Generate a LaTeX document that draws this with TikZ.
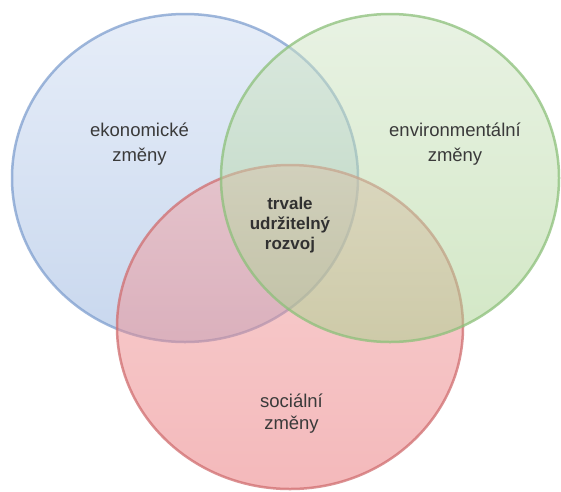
\documentclass[tikz,border=0pt]{standalone}
\usepackage{fontspec}
\setmainfont{Liberation Sans}
\usetikzlibrary{shapes.geometric}
\definecolor{blueTop}{HTML}{CFDDF3}
\definecolor{blueBot}{HTML}{93B1DE}
\definecolor{blueLine}{HTML}{7F9FCF}
\definecolor{greenTop}{HTML}{D3E7C9}
\definecolor{greenBot}{HTML}{A7D18D}
\definecolor{greenLine}{HTML}{8CC07A}
\definecolor{redTop}{HTML}{F2A6A6}
\definecolor{redBot}{HTML}{EA7478}
\definecolor{redLine}{HTML}{D06E70}
\definecolor{txt}{HTML}{3A3A3A}
\tikzset{
  venn/.style={ellipse, minimum width=346pt, minimum height=328pt, inner sep=0pt,
    fill opacity=0.5, draw opacity=0.75, line width=2.5pt},
  lbl/.style={align=center, text=txt, font=\fontsize{18.5}{25}\selectfont, text opacity=1},
  mid/.style={align=center, text=txt!85!black, font=\fontsize{17}{20}\selectfont\bfseries}
}
\begin{document}
\begin{tikzpicture}[x=1pt,y=-1pt]
\useasboundingbox (0,0) rectangle (561,491);
\fill[white] (0,0) rectangle (561,491);
\node[venn, top color=blueTop, bottom color=blueBot, draw=blueLine] (eko) at (185,178) {};
\node[venn, minimum height=324pt, top color=redTop, bottom color=redBot, draw=redLine] (soc) at (290,327) {};
\node[venn, minimum width=338pt, top color=greenTop, bottom color=greenBot, draw=greenLine] (env) at (390,178) {};
\node[lbl] (ekot) at (139.5,144.5) {ekonomické\\změny};
\node[lbl] (envt) at (455,144.5) {environmentální\\změny};
\node[lbl, font=\fontsize{18.5}{22}\selectfont] (soct) at (291.5,414) {sociální\\změny};
\node[mid] (trv) at (290,225) {trvale\\udržitelný\\rozvoj};
\end{tikzpicture}
\end{document}
